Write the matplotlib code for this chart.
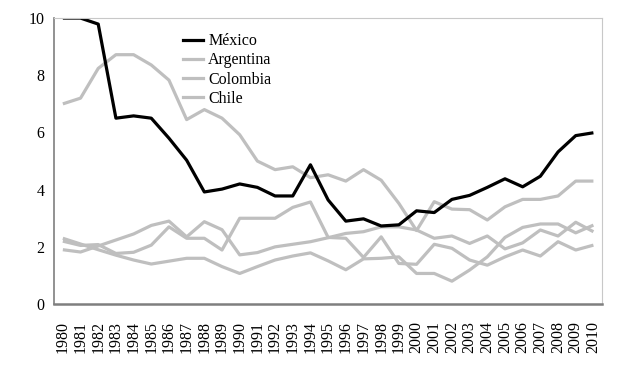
import numpy as np
import matplotlib.pyplot as plt
from matplotlib.lines import Line2D

years = [str(y) for y in range(1980, 2011)]

mexico = [10.0, 10.0, 9.79, 6.5, 6.58, 6.5, 5.8, 5.03, 3.92, 4.02, 4.2,
          4.08, 3.78, 3.78, 4.87, 3.64, 2.9, 2.98, 2.73, 2.77, 3.26,
          3.2, 3.66, 3.8, 4.08, 4.38, 4.1, 4.47, 5.32, 5.89, 5.99]
argentina = [7.0, 7.2, 8.24, 8.72, 8.72, 8.36, 7.83, 6.45, 6.8, 6.5, 5.92,
             5.0, 4.7, 4.8, 4.42, 4.52, 4.3, 4.7, 4.33, 3.52, 2.57,
             3.58, 3.32, 3.3, 2.94, 3.4, 3.66, 3.66, 3.78, 4.3, 4.3]
colombia = [1.9, 1.82, 2.03, 2.24, 2.45, 2.75, 2.9, 2.35, 2.88, 2.6, 1.72,
            1.8, 2.0, 2.09, 2.18, 2.32, 2.47, 2.53, 2.7, 2.7, 2.59,
            2.3, 2.38, 2.12, 2.38, 1.93, 2.14, 2.59, 2.38, 2.86, 2.53]
chile = [2.3, 2.1, 1.9, 1.71, 1.54, 1.4, 1.5, 1.6, 1.6, 1.31, 1.07,
         1.31, 1.54, 1.68, 1.79, 1.51, 1.2, 1.58, 1.6, 1.65, 1.07,
         1.07, 0.8, 1.19, 1.65, 2.33, 2.68, 2.8, 2.8, 2.49, 2.76]
# quinta serie gris (sin leyenda en el original)
otra = [2.2, 2.05, 2.08, 1.77, 1.81, 2.06, 2.7, 2.3, 2.3, 1.89, 3.0,
        3.0, 3.0, 3.38, 3.57, 2.33, 2.3, 1.63, 2.35, 1.42, 1.39,
        2.09, 1.95, 1.54, 1.36, 1.65, 1.89, 1.68, 2.18, 1.89, 2.06]

plt.rcParams['font.family'] = ['Liberation Serif', 'DejaVu Serif']

fig = plt.figure(figsize=(6.28, 3.69), dpi=100)
ax = fig.add_axes([0.086, 0.176, 0.873, 0.775])

x = np.arange(len(years))
gray = '#bfbfbf'
ax.plot(x, otra, color=gray, lw=2.3, solid_capstyle='butt')
ax.plot(x, chile, color=gray, lw=2.3, solid_capstyle='butt')
ax.plot(x, colombia, color=gray, lw=2.3, solid_capstyle='butt')
ax.plot(x, argentina, color=gray, lw=2.3, solid_capstyle='butt')
ax.plot(x, mexico, color='black', lw=2.3, solid_capstyle='butt')

ax.set_xlim(-0.5, len(years) - 0.5)
ax.set_ylim(0, 10)
ax.set_yticks([0, 2, 4, 6, 8, 10])
ax.set_xticks(x)
ax.set_xticklabels(years, rotation=90)
ax.tick_params(axis='both', length=0, labelsize=11.5)
ax.tick_params(axis='x', pad=12)
ax.tick_params(axis='y', pad=7)

ax.spines['left'].set_color('#7f7f7f')
ax.spines['left'].set_linewidth(1.2)
ax.spines['bottom'].set_color('#7f7f7f')
ax.spines['bottom'].set_linewidth(1.8)
ax.spines['top'].set_color('#c8c8c8')
ax.spines['right'].set_color('#c8c8c8')

handles = [Line2D([], [], color='black', lw=2.3),
           Line2D([], [], color=gray, lw=2.3),
           Line2D([], [], color=gray, lw=2.3),
           Line2D([], [], color=gray, lw=2.3)]
fig.legend(handles, ['México', 'Argentina', 'Colombia', 'Chile'],
           loc='upper left', bbox_to_anchor=(0.291, 0.91), frameon=False,
           fontsize=11.5, handlelength=1.25, handletextpad=0.35,
           labelspacing=0.2, borderpad=0, borderaxespad=0)

plt.savefig('out.png', dpi=100)
